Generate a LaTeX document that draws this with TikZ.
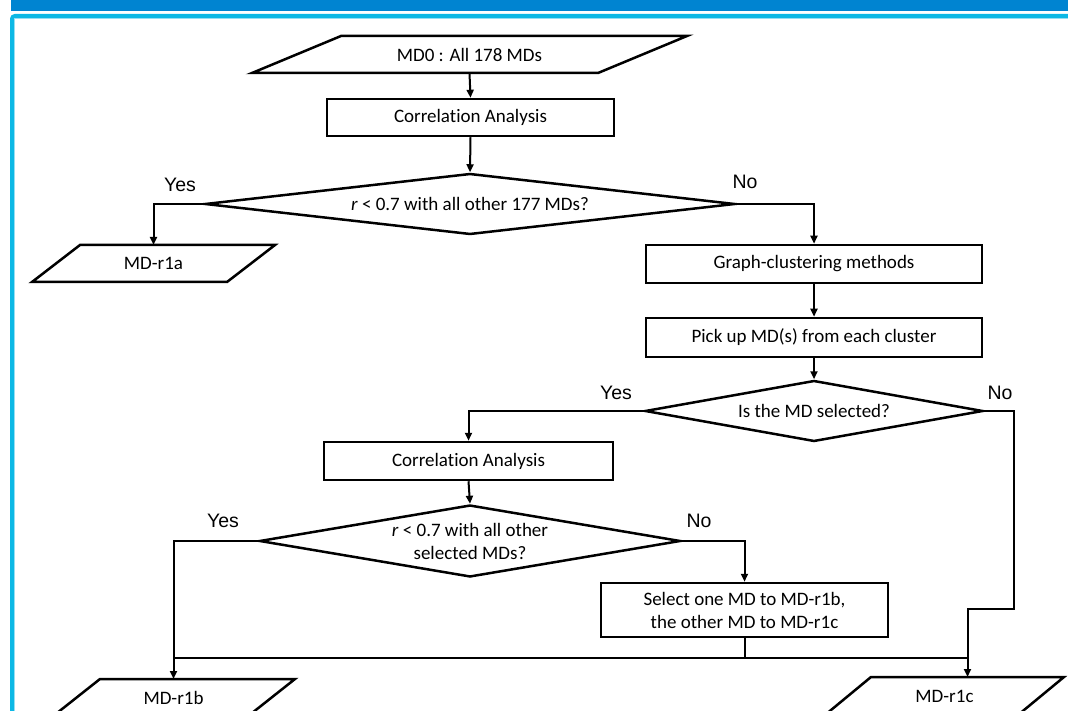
\documentclass[tikz,border=0pt]{standalone}
\usepackage{fontspec}
\setmainfont{Carlito}[Ligatures={NoCommon}]
\newfontfamily\arialf{Liberation Sans}
\usetikzlibrary{arrows.meta,calc,shapes.geometric}
\definecolor{barblue}{RGB}{0,132,209}
\definecolor{framecyan}{RGB}{12,184,229}
\definecolor{framelight}{RGB}{150,222,243}
\newcommand\paradraw[2]{\draw[shapeline] ($(#1.north west)+(#2,0)$) -- ($(#1.north east)+(#2,0)$) -- ($(#1.south east)-(#2,0)$) -- ($(#1.south west)-(#2,0)$) -- cycle;}
\begin{document}
\begin{tikzpicture}[x=1pt,y=-1pt,
  txt/.style={font=\fontsize{19}{23}\selectfont, align=center},
  shapeline/.style={draw=black, line width=2.5pt, line join=miter},
  box/.style={txt, shapeline, rectangle, inner sep=0pt},
  dia/.style={txt, shapeline, diamond, inner sep=0pt},
  para/.style={txt, rectangle, inner sep=0pt, outer sep=0pt},
  conn/.style={line width=2pt},
  arr/.style={conn, -{Triangle[length=8pt,width=7pt]}},
  lab/.style={font=\arialf\fontsize{19.5}{23}\selectfont, inner sep=0pt}]
\useasboundingbox (0,0) rectangle (1068,711);
\clip (0,0) rectangle (1068,711);
% frame
\fill[barblue] (11,0) rectangle (1075,11);
\draw[framecyan, line width=4pt, rounded corners=3pt] (12,730) -- (12,16) -- (1080,16);
\draw[framelight, line width=1pt] (14.5,730) -- (14.5,18.5) -- (1080,18.5);
% nodes
\node[para, minimum width=346pt, minimum height=37pt] (md0) at (469.5,54.5) {MD0 : All 178 MDs};
\paradraw{md0}{44.5}
\node[box, minimum width=287pt, minimum height=37pt] (ca1) at (470.5,117.5) {Correlation Analysis};
\node[dia, aspect=8.7, minimum width=530pt, minimum height=61pt] (d1) at (470,204) {\textit{r} < 0.7 with all other 177 MDs?};
\node[para, minimum width=195pt, minimum height=37pt] (r1a) at (153.5,263.5) {MD-r1a};
\paradraw{r1a}{24}
\node[box, minimum width=336pt, minimum height=38pt] (gc) at (814,264) {Graph-clustering methods};
\node[box, minimum width=336pt, minimum height=39pt] (pu) at (814,337.5) {Pick up MD(s) from each cluster};
\node[dia, aspect=5.5, minimum width=338pt, minimum height=61pt] (d2) at (814,411) {Is the MD selected?};
\node[box, minimum width=289pt, minimum height=38pt] (ca2) at (468.5,461) {Correlation Analysis};
\node[dia, aspect=5.85, minimum width=421pt, minimum height=72pt] (d3) at (470,541) {\textit{r} < 0.7 with all other\\selected MDs?};
\node[box, minimum width=287pt, minimum height=54pt] (sel) at (744.5,610) {Select one MD to MD-r1b,\\the other MD to MD-r1c};
\node[para, minimum width=195pt, minimum height=38pt] (r1b) at (173.5,698) {MD-r1b};
\paradraw{r1b}{24}
\node[para, minimum width=193pt, minimum height=38pt] (r1c) at (944.5,696) {MD-r1c};
\paradraw{r1c}{23}
% labels
\node[lab] (y1) at (180,185) {Yes};
\node[lab] (n1) at (745,182) {No};
\node[lab] (y2) at (616,393) {Yes};
\node[lab] (n2) at (1000,393) {No};
\node[lab] (y3) at (223,521) {Yes};
\node[lab] (n3) at (699,521) {No};
% connectors
\coordinate (r1cin) at ($(r1c.north)+(23,0)$);
\coordinate (jn) at (0,658);
\draw[arr] (md0.south) -- (ca1.north);
\draw[arr] (ca1.south) -- (d1.north);
\draw[arr] (d1.west) -| (r1a.north);
\draw[arr] (d1.east) -| (gc.north);
\draw[arr] (gc.south) -- (pu.north);
\draw[arr] (pu.south) -- (d2.north);
\draw[arr] (d2.west) -| (ca2.north);
\draw[arr] (d2.east) -- ++(30,0) |- (r1cin |- 0,609) -- (r1cin);
\draw[arr] (ca2.south) -- (d3.north);
\draw[arr] (d3.west) -| (r1b.north);
\draw[arr] (d3.east) -| (sel.north);
\draw[conn] (sel.south) -- (sel.south |- jn);
\draw[conn] (r1b.north |- jn) -- (r1cin |- jn);
\end{tikzpicture}
\end{document}
